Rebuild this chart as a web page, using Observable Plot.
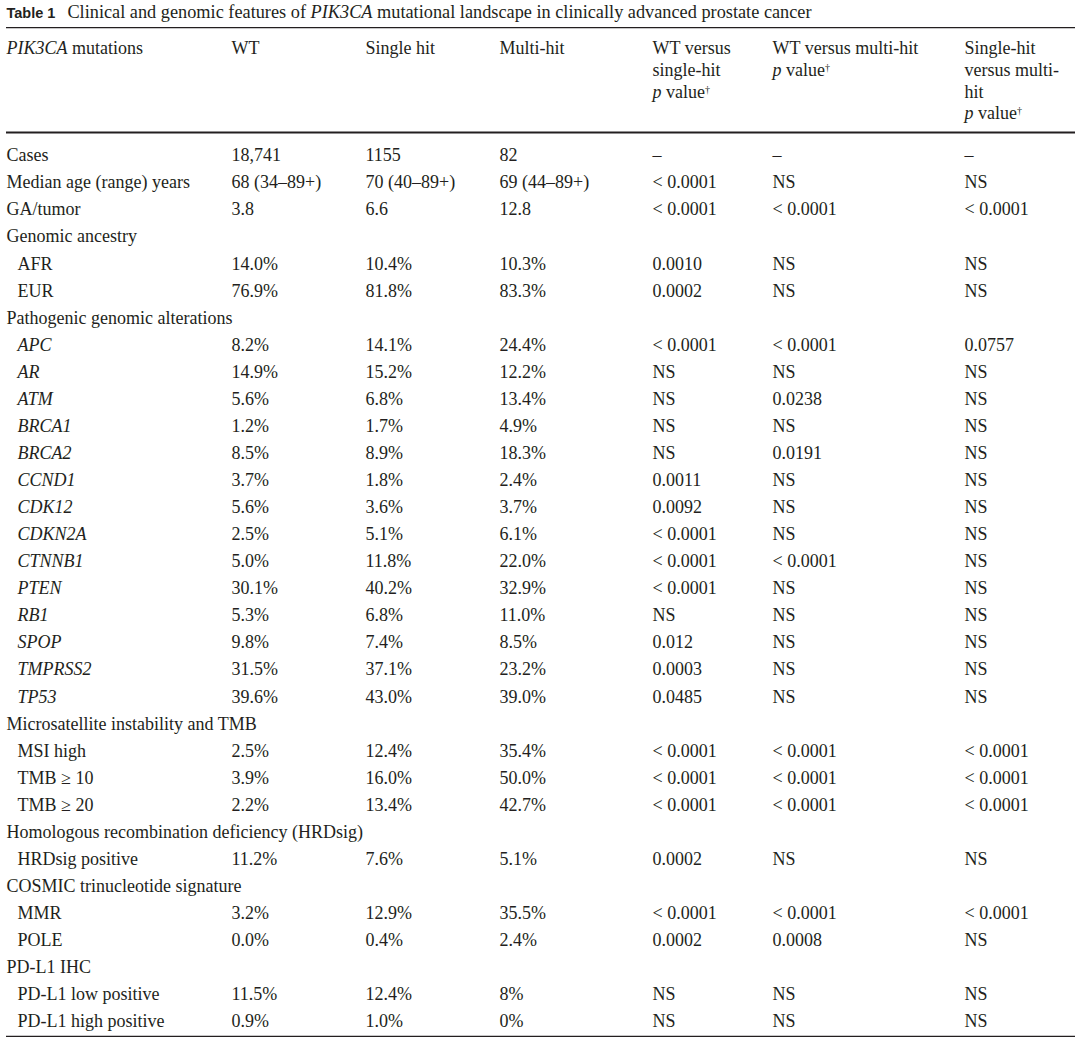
<!DOCTYPE html>
<html>
<head>
<meta charset="utf-8">
<script src="https://cdn.jsdelivr.net/npm/d3@7"></script>
<script src="https://cdn.jsdelivr.net/npm/@observablehq/plot@0.6"></script>
<style>
  html, body { margin: 0; padding: 0; background: #fff; }
</style>
</head>
<body>
<div id="chart"></div>
<script>
// ---------- DATA ----------
const title = "**Table 1**  Clinical and genomic features of _PIK3CA_ mutational landscape in clinically advanced prostate cancer";

// header cells, one list of lines per column
const headerLines = [
  ["_PIK3CA_ mutations"],
  ["WT"],
  ["Single hit"],
  ["Multi-hit"],
  ["WT versus", "single-hit", "_p_ value^†^"],
  ["WT versus multi-hit", "_p_ value^†^"],
  ["Single-hit", "versus multi-", "hit", "_p_ value^†^"]
];

const rowLabels = [
  "Cases", "Median age (range) years", "GA/tumor",
  "Genomic ancestry", "AFR", "EUR",
  "Pathogenic genomic alterations",
  "APC", "AR", "ATM", "BRCA1", "BRCA2", "CCND1", "CDK12", "CDKN2A", "CTNNB1",
  "PTEN", "RB1", "SPOP", "TMPRSS2", "TP53",
  "Microsatellite instability and TMB", "MSI high", "TMB ≥ 10", "TMB ≥ 20",
  "Homologous recombination deficiency (HRDsig)", "HRDsig positive",
  "COSMIC trinucleotide signature", "MMR", "POLE",
  "PD-L1 IHC", "PD-L1 low positive", "PD-L1 high positive"
];

// main = top-level row, section = group heading, sub = indented row, gene = indented italic gene
const rowKinds = [
  "main", "main", "main",
  "section", "sub", "sub",
  "section",
  "gene", "gene", "gene", "gene", "gene", "gene", "gene", "gene", "gene",
  "gene", "gene", "gene", "gene", "gene",
  "section", "sub", "sub", "sub",
  "section", "sub",
  "section", "sub", "sub",
  "section", "sub", "sub"
];

const wt = [
  "18,741", "68 (34–89+)", "3.8",
  "", "14.0%", "76.9%",
  "",
  "8.2%", "14.9%", "5.6%", "1.2%", "8.5%", "3.7%", "5.6%", "2.5%", "5.0%",
  "30.1%", "5.3%", "9.8%", "31.5%", "39.6%",
  "", "2.5%", "3.9%", "2.2%",
  "", "11.2%",
  "", "3.2%", "0.0%",
  "", "11.5%", "0.9%"
];

const singleHit = [
  "1155", "70 (40–89+)", "6.6",
  "", "10.4%", "81.8%",
  "",
  "14.1%", "15.2%", "6.8%", "1.7%", "8.9%", "1.8%", "3.6%", "5.1%", "11.8%",
  "40.2%", "6.8%", "7.4%", "37.1%", "43.0%",
  "", "12.4%", "16.0%", "13.4%",
  "", "7.6%",
  "", "12.9%", "0.4%",
  "", "12.4%", "1.0%"
];

const multiHit = [
  "82", "69 (44–89+)", "12.8",
  "", "10.3%", "83.3%",
  "",
  "24.4%", "12.2%", "13.4%", "4.9%", "18.3%", "2.4%", "3.7%", "6.1%", "22.0%",
  "32.9%", "11.0%", "8.5%", "23.2%", "39.0%",
  "", "35.4%", "50.0%", "42.7%",
  "", "5.1%",
  "", "35.5%", "2.4%",
  "", "8%", "0%"
];

const pWtSingle = [
  "–", "< 0.0001", "< 0.0001",
  "", "0.0010", "0.0002",
  "",
  "< 0.0001", "NS", "NS", "NS", "NS", "0.0011", "0.0092", "< 0.0001", "< 0.0001",
  "< 0.0001", "NS", "0.012", "0.0003", "0.0485",
  "", "< 0.0001", "< 0.0001", "< 0.0001",
  "", "0.0002",
  "", "< 0.0001", "0.0002",
  "", "NS", "NS"
];

const pWtMulti = [
  "–", "NS", "< 0.0001",
  "", "NS", "NS",
  "",
  "< 0.0001", "NS", "0.0238", "NS", "0.0191", "NS", "NS", "NS", "< 0.0001",
  "NS", "NS", "NS", "NS", "NS",
  "", "< 0.0001", "< 0.0001", "< 0.0001",
  "", "NS",
  "", "< 0.0001", "0.0008",
  "", "NS", "NS"
];

const pSingleMulti = [
  "–", "NS", "< 0.0001",
  "", "NS", "NS",
  "",
  "0.0757", "NS", "NS", "NS", "NS", "NS", "NS", "NS", "NS",
  "NS", "NS", "NS", "NS", "NS",
  "", "< 0.0001", "< 0.0001", "< 0.0001",
  "", "NS",
  "", "< 0.0001", "NS",
  "", "NS", "NS"
];

// ---------- LAYOUT (scale settings, not data) ----------
const colRange = [6, 231, 365, 499, 652, 772, 964];
const rowDomain = [-5, -4, -1, 0, 32];
const rowRange = [12, 48, 113, 155, 1021];
const rules = [
  {row: -4.58, width: 1.1},
  {row: -0.55, width: 2},
  {row: 32.55, width: 1.4}
];
const ink = "#231f20";
const serif = "Liberation Serif, Times New Roman, serif";
const fs = 18;

// ---------- BUILD TABLES ----------
const valueCols = [wt, singleHit, multiHit, pWtSingle, pWtMulti, pSingleMulti];
const labelRows = rowLabels.map((label, i) => ({row: i, col: 0, text: label, kind: rowKinds[i]}));
const valueCells = [];
valueCols.forEach((arr, c) => arr.forEach((v, i) => {
  if (v !== "") valueCells.push({row: i, col: c + 1, text: v});
}));
const headerCells = [];
headerLines.forEach((lines, c) => lines.forEach((t, k) => headerCells.push({row: -4 + k, col: c, text: t})));
const titleCell = [{row: -5, col: 0, text: title}];

const common = {x: "col", y: "row", text: "text", textAnchor: "start", lineAnchor: "middle",
  fontSize: fs, fontFamily: serif, fill: ink};

const chart = Plot.plot({
  width: 1080,
  height: 1043,
  marginTop: 0, marginBottom: 0, marginLeft: 6, marginRight: 5,
  style: {background: "#fff", color: ink, fontFamily: serif},
  x: {type: "linear", domain: [0, 1, 2, 3, 4, 5, 6], range: colRange, axis: null},
  y: {type: "linear", domain: rowDomain, range: rowRange, axis: null},
  marks: [
    Plot.ruleY(rules, {y: "row", strokeWidth: "width", stroke: ink}),
    Plot.text(titleCell, {...common, fontSize: 18.3}),
    Plot.text(headerCells, common),
    Plot.text(labelRows.filter(d => d.kind === "main" || d.kind === "section"), common),
    Plot.text(labelRows.filter(d => d.kind === "sub"), {...common, dx: 11}),
    Plot.text(labelRows.filter(d => d.kind === "gene"), {...common, dx: 11, fontStyle: "italic"}),
    Plot.text(valueCells, common)
  ]
});

// rich text: **bold sans**, _italic_, ^superscript^
const NS = "http://www.w3.org/2000/svg";
chart.querySelectorAll("text").forEach(t => {
  const s = t.textContent;
  if (!/[_^]|\*\*/.test(s)) return;
  t.textContent = "";
  const re = /\*\*(.+?)\*\*|_(.+?)_|\^(.+?)\^|([^_^*]+)/g;
  let m, afterBold = false;
  while ((m = re.exec(s))) {
    const ts = document.createElementNS(NS, "tspan");
    if (m[1]) {
      ts.textContent = m[1];
      ts.setAttribute("font-family", "Liberation Sans, Arial, sans-serif");
      ts.setAttribute("font-weight", "bold");
      ts.setAttribute("font-size", "14.5");
      afterBold = true;
    } else if (m[2]) {
      ts.textContent = m[2];
      ts.setAttribute("font-style", "italic");
    } else if (m[3]) {
      ts.textContent = m[3];
      ts.setAttribute("font-size", "10");
      ts.setAttribute("baseline-shift", "super");
    } else {
      let txt = m[4];
      if (afterBold) { txt = txt.replace(/^\s+/, ""); ts.setAttribute("dx", "12"); afterBold = false; }
      ts.textContent = txt;
    }
    t.appendChild(ts);
  }
});

document.getElementById("chart").appendChild(chart);
</script>
</body>
</html>
